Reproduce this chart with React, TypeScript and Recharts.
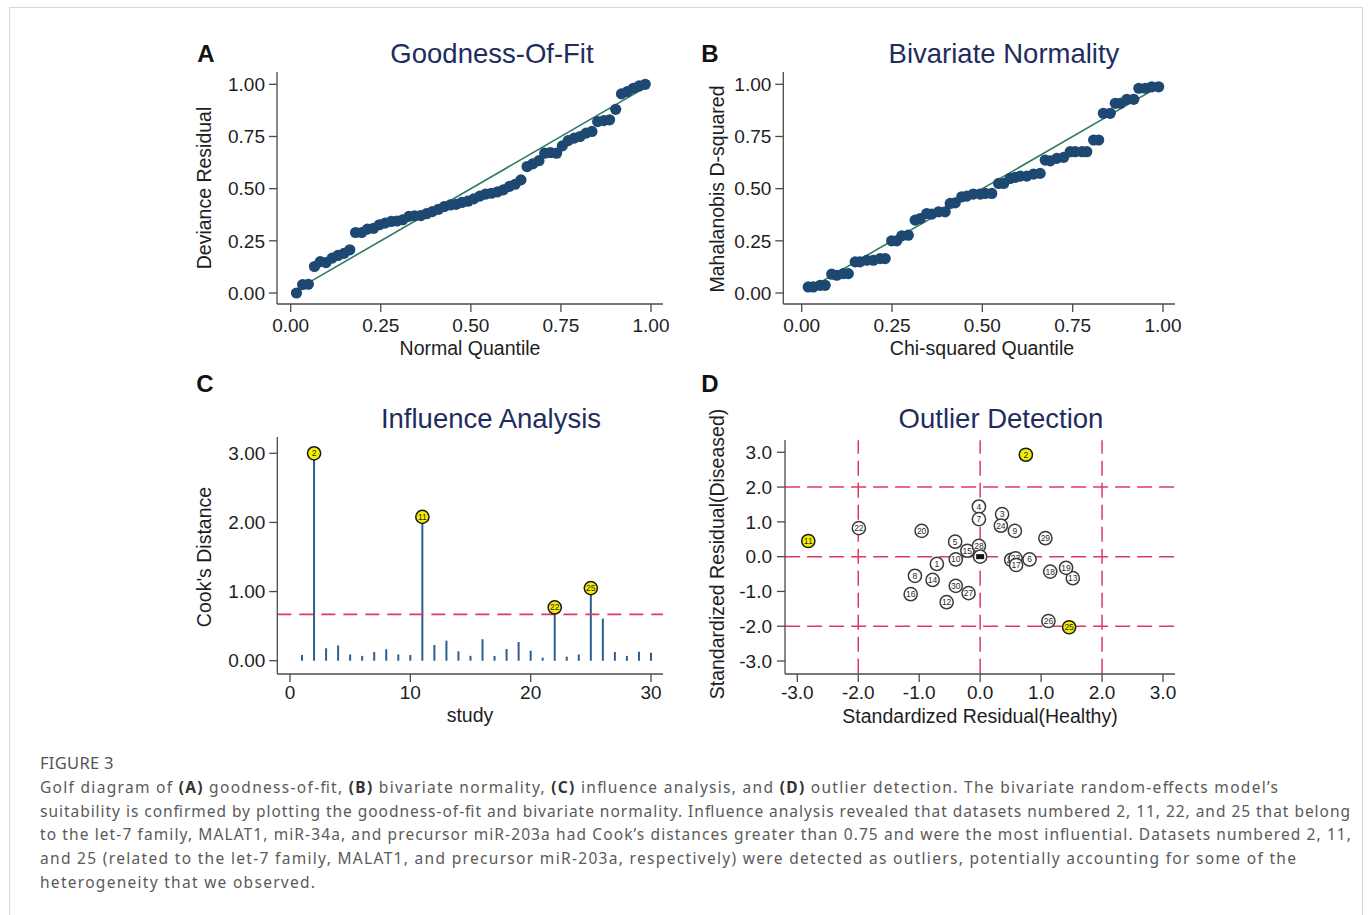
import React from "react";
import { ComposedChart, Scatter, Bar, XAxis, YAxis, ReferenceLine } from "recharts";

// ---- Panel A: goodness-of-fit ----
const gofQuantile = [
  0.016, 0.033, 0.049, 0.066, 0.082, 0.098, 0.115, 0.131, 0.148, 0.164,
  0.180, 0.197, 0.213, 0.230, 0.246, 0.262, 0.279, 0.295, 0.311, 0.328,
  0.344, 0.361, 0.377, 0.393, 0.410, 0.426, 0.443, 0.459, 0.475, 0.492,
  0.508, 0.525, 0.541, 0.557, 0.574, 0.590, 0.607, 0.623, 0.639, 0.656,
  0.672, 0.689, 0.705, 0.721, 0.738, 0.754, 0.770, 0.787, 0.803, 0.820,
  0.836, 0.852, 0.869, 0.885, 0.902, 0.918, 0.934, 0.951, 0.967, 0.984,
];
const gofResidual = [
  0.0, 0.04, 0.042, 0.127, 0.15, 0.146, 0.167, 0.18, 0.19, 0.207,
  0.29, 0.29, 0.306, 0.31, 0.327, 0.335, 0.343, 0.345, 0.351, 0.367,
  0.37, 0.371, 0.38, 0.39, 0.401, 0.414, 0.422, 0.425, 0.434, 0.44,
  0.451, 0.464, 0.474, 0.478, 0.485, 0.494, 0.511, 0.521, 0.542, 0.606,
  0.619, 0.634, 0.67, 0.673, 0.67, 0.705, 0.73, 0.742, 0.75, 0.766,
  0.774, 0.821, 0.826, 0.83, 0.88, 0.954, 0.965, 0.981, 0.992, 1.0,
];

// ---- Panel B: bivariate normality ----
const chiQuantile = [
  0.018, 0.032, 0.051, 0.065, 0.083, 0.097, 0.115, 0.129, 0.148, 0.161,
  0.180, 0.198, 0.217, 0.231, 0.249, 0.263, 0.277, 0.295, 0.314, 0.328,
  0.346, 0.360, 0.379, 0.397, 0.411, 0.425, 0.443, 0.457, 0.475, 0.494,
  0.508, 0.526, 0.545, 0.559, 0.577, 0.591, 0.605, 0.623, 0.642, 0.660,
  0.674, 0.688, 0.706, 0.725, 0.743, 0.757, 0.776, 0.789, 0.808, 0.822,
  0.835, 0.854, 0.868, 0.882, 0.900, 0.919, 0.933, 0.951, 0.969, 0.988,
];
const mahalanobisD2 = [
  0.029, 0.029, 0.037, 0.037, 0.09, 0.085, 0.093, 0.093, 0.149, 0.149,
  0.157, 0.157, 0.165, 0.165, 0.25, 0.25, 0.274, 0.277, 0.349, 0.357,
  0.381, 0.378, 0.389, 0.389, 0.429, 0.432, 0.461, 0.464, 0.474, 0.474,
  0.477, 0.477, 0.525, 0.525, 0.549, 0.554, 0.56, 0.56, 0.57, 0.573,
  0.637, 0.633, 0.645, 0.65, 0.677, 0.677, 0.677, 0.677, 0.733, 0.733,
  0.861, 0.861, 0.909, 0.909, 0.928, 0.928, 0.981, 0.981, 0.988, 0.988,
];

const quantileTicks = [0, 0.25, 0.5, 0.75, 1];
const fitLine = [0.015, 0.985];

// ---- Panel C: influence analysis ----
const studies = [
  1, 2, 3, 4, 5, 6, 7, 8, 9, 10, 11, 12, 13, 14, 15,
  16, 17, 18, 19, 20, 21, 22, 23, 24, 25, 26, 27, 28, 29, 30,
];
const cookDistance = [
  0.082, 3.0, 0.18, 0.22, 0.09, 0.07, 0.126, 0.165, 0.09, 0.082,
  2.08, 0.227, 0.29, 0.136, 0.07, 0.31, 0.068, 0.17, 0.27, 0.145,
  0.043, 0.77, 0.058, 0.09, 1.05, 0.61, 0.126, 0.07, 0.13, 0.116,
];
const influentialStudies = [2, 11, 22, 25];
const cookCutoff = 0.67;
const cookTicks = [0, 1, 2, 3];
const studyTicks = [0, 10, 20, 30];

// ---- Panel D: outlier detection ----
const outlierLabels = [
  1, 2, 3, 4, 5, 6, 7, 8, 9, 10, 11, 12, 13, 14, 15,
  16, 18, 19, 20, 21, 22, 23, 17, 24, 25, 26, 27, 28, 29, 30,
];
const residualHealthy = [
  -0.71, 0.75, 0.36, -0.02, -0.41, 0.81, -0.02, -1.07, 0.57, -0.4, -2.82, -0.55, 1.52, -0.78, -0.21,
  -1.14, 1.15, 1.41, -0.96, 0.51, -1.99, 0.58, 0.59, 0.34, 1.46, 1.12, -0.19, -0.02, 1.07, -0.4,
];
const residualDiseased = [
  -0.21, 2.93, 1.22, 1.44, 0.43, -0.08, 1.08, -0.55, 0.74, -0.08, 0.45, -1.31, -0.62, -0.67, 0.17,
  -1.08, -0.43, -0.32, 0.74, -0.09, 0.82, -0.05, -0.24, 0.89, -2.03, -1.85, -1.05, 0.31, 0.53, -0.84,
];
const outlierStudies = [2, 11, 25];
const overlapMark = [{ x: 0, y: 0 }];
const residualTicks = [-3, -2, -1, 0, 1, 2, 3];
const residualGuides = [-2, 0, 2];

const FONT = "'Liberation Sans', Arial, Helvetica, sans-serif";
const CAPTION_FONT = "'Noto Sans', 'Open Sans', sans-serif";
const AXIS = "#4a4a4a";
const NAVY = "#1c4872";
const FIT = "#2f7a66";
const CRIMSON = "#dd3a60";
const YELLOW = "#f3ee00";
const TITLE = "#1e2d5e";

const tickStyle = { fontSize: 19, fill: "#1e1e1e", fontFamily: FONT };
const axisLineStyle = { stroke: AXIS, strokeWidth: 1.3 };

const gofPoints = gofQuantile.map((q, i) => ({ x: q, y: gofResidual[i] }));
const bivPoints = chiQuantile.map((q, i) => ({ x: q, y: mahalanobisD2[i] }));
const cookRows = studies.map((s, i) => ({ study: s, cook: cookDistance[i] }));
const influentialRows = cookRows.filter((r) => influentialStudies.includes(r.study));
const residualRows = outlierLabels.map((s, i) => ({
  study: s,
  x: residualHealthy[i],
  y: residualDiseased[i],
  outlier: outlierStudies.includes(s),
}));

const NavyDot = (props: any) => <circle cx={props.cx} cy={props.cy} r={5.6} fill={NAVY} />;

const LabelDot = (props: any) => {
  const { cx, cy, payload } = props;
  const yellow = payload.outlier !== false;
  return (
    <g>
      <circle cx={cx} cy={cy} r={6.6} fill={yellow ? YELLOW : "#ffffff"} stroke={yellow ? "#1a1a1a" : "#3a3a3a"} strokeWidth={1.5} />
      <text x={cx} y={cy + 3} textAnchor="middle" fontSize={8.5} fontFamily={FONT} fill="#2a2a2a">
        {payload.study}
      </text>
    </g>
  );
};

const OverlapDot = (props: any) => (
  <g>
    <circle cx={props.cx} cy={props.cy} r={6.6} fill="#ffffff" stroke="#3a3a3a" strokeWidth={1.5} />
    <rect x={props.cx - 4} y={props.cy - 2.5} width={8} height={5} fill="#111" />
  </g>
);

const QuantilePanel = ({ points, padLeft, marginLeft, marginRight }: any) => (
  <ComposedChart width={500} height={300} margin={{ top: 12, right: marginRight, bottom: 26, left: marginLeft }}>
    <XAxis
      type="number"
      dataKey="x"
      domain={[0, 1]}
      ticks={quantileTicks}
      interval={0}
      tickFormatter={(v: number) => v.toFixed(2)}
      padding={{ left: padLeft, right: 12 }}
      height={30}
      tickSize={8}
      tickMargin={7}
      tick={tickStyle}
      axisLine={axisLineStyle}
      tickLine={axisLineStyle}
    />
    <YAxis
      type="number"
      dataKey="y"
      domain={[0, 1]}
      ticks={quantileTicks}
      interval={0}
      tickFormatter={(v: number) => v.toFixed(2)}
      padding={{ top: 12.3, bottom: 11 }}
      width={60}
      tickSize={8}
      tickMargin={4}
      tick={tickStyle}
      axisLine={axisLineStyle}
      tickLine={axisLineStyle}
    />
    <Scatter data={points} shape={NavyDot} isAnimationActive={false} />
    <ReferenceLine
      segment={[
        { x: fitLine[0], y: fitLine[0] },
        { x: fitLine[1], y: fitLine[1] },
      ]}
      stroke={FIT}
      strokeWidth={1.6}
      ifOverflow="visible"
    />
  </ComposedChart>
);

const InfluencePanel = () => (
  <ComposedChart width={500} height={300} data={cookRows} margin={{ top: 12, right: 17, bottom: 21, left: 37.3 }}>
    <XAxis
      type="number"
      dataKey="study"
      domain={[0, 30]}
      ticks={studyTicks}
      interval={0}
      padding={{ left: 12.7, right: 12 }}
      height={30}
      tickSize={8}
      tickMargin={4}
      tick={tickStyle}
      axisLine={axisLineStyle}
      tickLine={axisLineStyle}
    />
    <YAxis
      type="number"
      domain={[0, 3]}
      ticks={cookTicks}
      interval={0}
      tickFormatter={(v: number) => v.toFixed(2)}
      padding={{ top: 16.3, bottom: 13.3 }}
      width={60}
      tickSize={8}
      tickMargin={4}
      tick={tickStyle}
      axisLine={axisLineStyle}
      tickLine={axisLineStyle}
    />
    <ReferenceLine
      segment={[
        { x: -1.05, y: cookCutoff },
        { x: 31, y: cookCutoff },
      ]}
      stroke={CRIMSON}
      strokeWidth={1.6}
      strokeDasharray="14 8"
      ifOverflow="visible"
    />
    <Bar dataKey="cook" barSize={2} fill="#2d5d8b" isAnimationActive={false} />
    <Scatter data={influentialRows} dataKey="cook" shape={LabelDot} isAnimationActive={false} />
  </ComposedChart>
);

const OutlierPanel = () => (
  <ComposedChart width={500} height={300} margin={{ top: 15, right: 15, bottom: 21, left: 35 }}>
    <XAxis
      type="number"
      dataKey="x"
      domain={[-3, 3]}
      ticks={residualTicks}
      interval={0}
      tickFormatter={(v: number) => v.toFixed(1)}
      padding={{ left: 12.3, right: 12 }}
      height={30}
      tickSize={8}
      tickMargin={4}
      tick={tickStyle}
      axisLine={axisLineStyle}
      tickLine={axisLineStyle}
    />
    <YAxis
      type="number"
      dataKey="y"
      domain={[-3, 3]}
      ticks={residualTicks}
      interval={0}
      tickFormatter={(v: number) => v.toFixed(1)}
      padding={{ top: 12.3, bottom: 13 }}
      width={60}
      tickSize={8}
      tickMargin={5}
      tick={tickStyle}
      axisLine={axisLineStyle}
      tickLine={axisLineStyle}
    />
    {residualGuides.map((g) => (
      <ReferenceLine
        key={`h${g}`}
        segment={[
          { x: -3.2, y: g },
          { x: 3.2, y: g },
        ]}
        stroke={CRIMSON}
        strokeWidth={1.5}
        strokeDasharray="15 7"
        ifOverflow="visible"
      />
    ))}
    {residualGuides.map((g) => (
      <ReferenceLine
        key={`v${g}`}
        segment={[
          { x: g, y: -3.37 },
          { x: g, y: 3.35 },
        ]}
        stroke={CRIMSON}
        strokeWidth={1.5}
        strokeDasharray="15 7"
        ifOverflow="visible"
      />
    ))}
    <Scatter data={residualRows} shape={LabelDot} isAnimationActive={false} />
    <Scatter data={overlapMark} shape={OverlapDot} isAnimationActive={false} />
  </ComposedChart>
);

const captionLines = [
  { y: 792.5, len: 1238 },
  { y: 816.5, len: 1310 },
  { y: 840, len: 1311 },
  { y: 864, len: 1256 },
  { y: 888, len: 275 },
];

const B = (t: string) => (
  <tspan fontWeight={700} fill="#333">
    {t}
  </tspan>
);

export default function App() {
  const place = (left: number, top: number): React.CSSProperties => ({ position: "absolute", left, top });
  const capStyle = { fontFamily: CAPTION_FONT, fontSize: 15.5, fill: "#5a5a5a" };
  return (
    <div style={{ position: "absolute", left: 0, top: 0, width: 1372, height: 915, background: "#fff", overflow: "hidden" }}>
      <div style={{ position: "absolute", left: 9, top: 7, width: 1352, height: 940, border: "1px solid #d8d8d8" }} />
      <div style={place(180, 60)}>
        <QuantilePanel points={gofPoints} padLeft={13.7} marginLeft={37} marginRight={17} />
      </div>
      <div style={place(690, 60)}>
        <QuantilePanel points={bivPoints} padLeft={18.4} marginLeft={33.3} marginRight={15} />
      </div>
      <div style={place(180, 425)}>
        <InfluencePanel />
      </div>
      <div style={place(690, 425)}>
        <OutlierPanel />
      </div>
      <svg width={1372} height={915} style={{ position: "absolute", left: 0, top: 0, pointerEvents: "none" }}>
        <g fontFamily={FONT}>
          <text x={206} y={62} fontSize={24} fontWeight={700} textAnchor="middle" fill="#111">A</text>
          <text x={710} y={62} fontSize={24} fontWeight={700} textAnchor="middle" fill="#111">B</text>
          <text x={205} y={392} fontSize={24} fontWeight={700} textAnchor="middle" fill="#111">C</text>
          <text x={710} y={392} fontSize={24} fontWeight={700} textAnchor="middle" fill="#111">D</text>
          <text x={492} y={62.5} fontSize={27.5} textAnchor="middle" fill={TITLE}>Goodness-Of-Fit</text>
          <text x={1004} y={62.5} fontSize={27.5} textAnchor="middle" fill={TITLE}>Bivariate Normality</text>
          <text x={491} y={428} fontSize={27.5} textAnchor="middle" fill={TITLE}>Influence Analysis</text>
          <text x={1001} y={428} fontSize={27.5} textAnchor="middle" fill={TITLE}>Outlier Detection</text>
          <g fontSize={19.5} fill="#1e1e1e" textAnchor="middle">
            <text x={470} y={355}>Normal Quantile</text>
            <text x={982} y={355}>Chi-squared Quantile</text>
            <text x={470} y={722}>study</text>
            <text x={980} y={723}>Standardized Residual(Healthy)</text>
            <text x={211} y={188} transform="rotate(-90 211 188)">Deviance Residual</text>
            <text x={724} y={189} transform="rotate(-90 724 189)">Mahalanobis D-squared</text>
            <text x={211} y={557} transform="rotate(-90 211 557)">Cook's Distance</text>
            <text x={724} y={554} transform="rotate(-90 724 554)">Standardized Residual(Diseased)</text>
          </g>
        </g>
        <text x={40} y={769} fontFamily={CAPTION_FONT} fontSize={16.5} fill="#555" letterSpacing={0.3}>
          FIGURE 3
        </text>
        <text x={40} y={captionLines[0].y} textLength={captionLines[0].len} lengthAdjust="spacing" style={capStyle}>
          Golf diagram of {B("(A)")} goodness-of-fit, {B("(B)")} bivariate normality, {B("(C)")} influence analysis, and {B("(D)")} outlier detection. The bivariate random-effects model’s
        </text>
        <text x={40} y={captionLines[1].y} textLength={captionLines[1].len} lengthAdjust="spacing" style={capStyle}>
          suitability is confirmed by plotting the goodness-of-fit and bivariate normality. Influence analysis revealed that datasets numbered 2, 11, 22, and 25 that belong
        </text>
        <text x={40} y={captionLines[2].y} textLength={captionLines[2].len} lengthAdjust="spacing" style={capStyle}>
          to the let-7 family, MALAT1, miR-34a, and precursor miR-203a had Cook’s distances greater than 0.75 and were the most influential. Datasets numbered 2, 11,
        </text>
        <text x={40} y={captionLines[3].y} textLength={captionLines[3].len} lengthAdjust="spacing" style={capStyle}>
          and 25 (related to the let-7 family, MALAT1, and precursor miR-203a, respectively) were detected as outliers, potentially accounting for some of the
        </text>
        <text x={40} y={captionLines[4].y} textLength={captionLines[4].len} lengthAdjust="spacing" style={capStyle}>
          heterogeneity that we observed.
        </text>
      </svg>
    </div>
  );
}
